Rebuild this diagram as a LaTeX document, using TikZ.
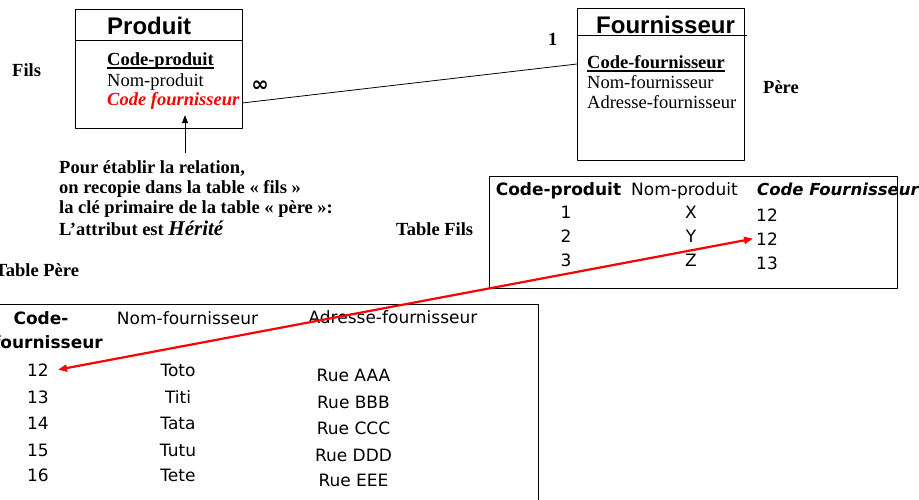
\documentclass[tikz,border=0pt]{standalone}
\usepackage{fontspec}
\setmainfont{Liberation Serif}
\newfontfamily\tabfont{DejaVu Sans}
\newfontfamily\titfont{Liberation Sans}
\usetikzlibrary{arrows.meta}
\begin{document}
\begin{tikzpicture}[x=1pt,y=-1pt,line join=round,
	txt/.style={inner sep=0pt,anchor=base west,font=\fontsize{18.5}{20}\selectfont},
	tab/.style={inner sep=0pt,anchor=base,font=\tabfont\fontsize{17}{18}\selectfont},
	titre/.style={inner sep=0pt,anchor=base west,font=\titfont\bfseries\fontsize{24}{26}\selectfont},
	souligne/.style={line width=1.2pt}]
	\useasboundingbox (0,0) rectangle (919,499);
	\path
	(75.5,9)coordinate(P1)
	(242,128)coordinate(P2)
	(577,8)coordinate(F1)
	(744,160)coordinate(F2)
	(242,103)coordinate(Pfk)
	(577,64)coordinate(Fpk)
	(185,153)coordinate(N)
	;
	% les deux entites
	\draw[line width=0.9pt] (P1) rectangle (P2) (75.5,40.5)--(242,40.5);
	\draw[line width=0.9pt] (F1) rectangle (F2) (577,35.5)--(747,35.5);
	\draw[line width=0.8pt] (Pfk)--(Fpk);
	\node[titre] (tp) at (107,34) {Produit};
	\node[txt] (cp) at (107,65) {\textbf{Code-produit}};
	\node[txt] (np) at (107,86) {Nom-produit};
	\node[txt,text=red] (fkattr) at (107,105) {\textbf{\textit{Code fournisseur}}};
	\node[titre] (tf) at (596,33) {Fournisseur};
	\node[txt] (cf) at (587,68) {\textbf{Code-fournisseur}};
	\node[txt] (nf) at (587,88) {Nom-fournisseur};
	\node[txt] (af) at (587,108) {Adresse-fournisseur};
	\foreach \x in {cp,cf} \draw[souligne] ([yshift=-3pt]\x.base west)--([yshift=-3pt]\x.base east);
	\node[txt] (fils) at (12,76) {\textbf{Fils}};
	\node[txt] (pere) at (763,93) {\textbf{Père}};
	\node[txt] (un) at (548,45) {\textbf{1}};
	\node[inner sep=0pt,font=\tabfont\bfseries\fontsize{21}{21}\selectfont] (inf) at (260,86) {∞};
	% la remarque
	\foreach \l/\y in {{Pour établir la relation,}/173,{on recopie dans la table « fils »}/193,{la clé primaire de la table « père »:}/213}
	\node[txt] at (59,\y) {\textbf{\l}};
	\node[txt] (note) at (59,235) {\textbf{L’attribut est {\fontsize{21}{22}\selectfont\textit{Hérité}}}};
	\draw[line width=0.9pt,-{Triangle[length=8pt,width=6pt]}] (N)--([yshift=-6pt]fkattr.south-|N);
	% table fils
	\node[txt] (tfils) at (396,235) {\textbf{Table Fils}};
	\draw[line width=0.8pt] (489,176) rectangle (897,288);
	\node[tab] at (558.5,195) {\bfseries Code-produit};
	\node[tab] at (684.5,195) {Nom-produit};
	\node[tab,anchor=base west,font=\tabfont\fontsize{16.5}{18}\selectfont] at (757,195) {\bfseries\itshape Code Fournisseur};
	\foreach \n/\l/\f/\y in {1/X/12/218,2/Y/12/242,3/Z/13/266}{
		\node[tab] at (566,\y) {\n};
		\node[tab] at (691,\y) {\l};
		\node[tab,anchor=base west] (fk\n) at (756,\y+3) {\f};
	}
	% table pere
	\node[txt] (tpere) at (-5,276) {\textbf{Table Père}};
	\draw[line width=0.8pt] (-5,304)--(538,304)--(538,510);
	\node[tab] at (41,324) {\bfseries Code-};
	\node[tab,anchor=base east] at (103,348) {\bfseries fournisseur};
	\node[tab] at (187.5,324) {Nom-fournisseur};
	\node[tab] at (393,323) {Adresse-fournisseur};
	\foreach \c/\m/\r/\y in {12/Toto/AAA/376,13/Titi/BBB/403,14/Tata/CCC/429,15/Tutu/DDD/456,16/Tete/EEE/481}{
		\node[tab] (pk\c) at (38,\y) {\c};
		\node[tab] at (178,\y) {\m};
		\node[tab] at (353.5,\y+5) {Rue \r};
	}
	\draw[red,line width=2.2pt,{Triangle[length=9pt,width=7pt]}-{Triangle[length=9pt,width=7pt]}] ([xshift=-3pt]fk2.west)--([xshift=9pt]pk12.east);
\end{tikzpicture}
\end{document}
